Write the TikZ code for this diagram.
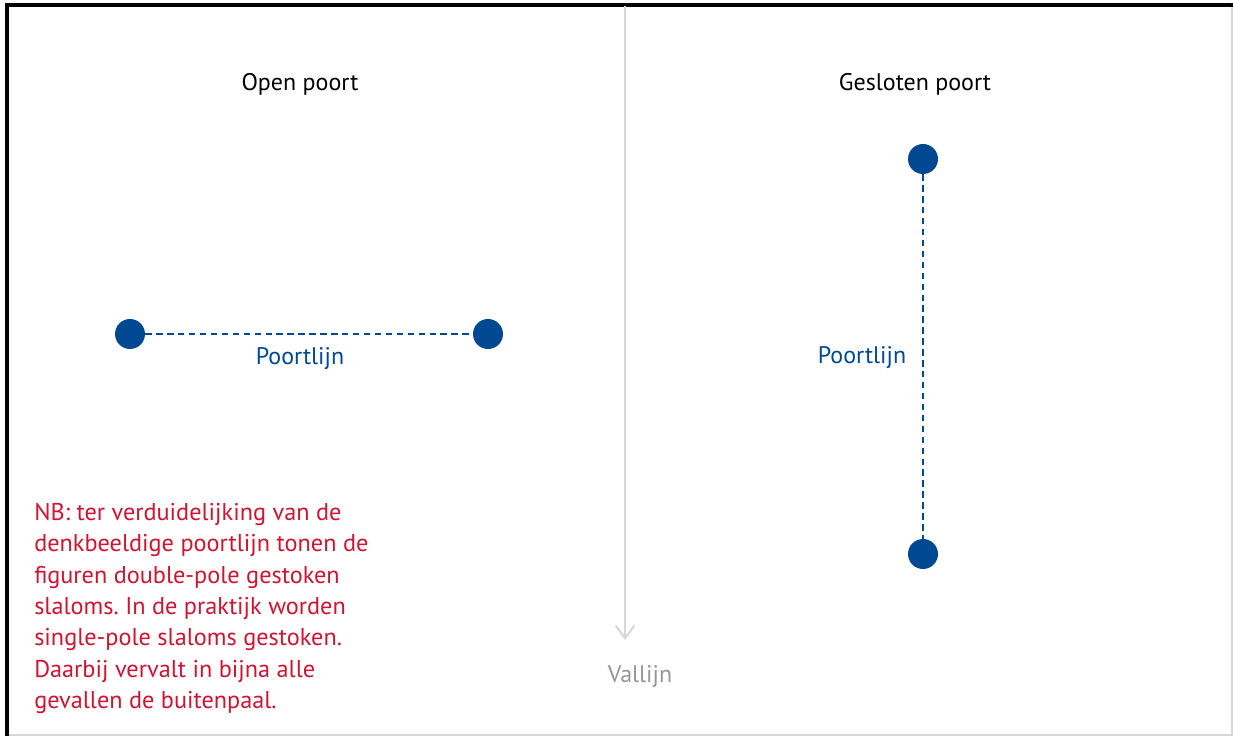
\documentclass[tikz,border=0pt]{standalone}
\usepackage{fontspec}
\setmainfont{PT Sans}
\usetikzlibrary{arrows.meta}
\frenchspacing

\definecolor{poortblauw}{RGB}{0,72,145}
\definecolor{nbrood}{RGB}{205,20,50}
\definecolor{valgrijs}{RGB}{215,215,215}
\definecolor{tekstgrijs}{RGB}{150,150,150}

\tikzset{
  paal/.style={circle,fill=poortblauw,inner sep=0pt,minimum size=22.5pt},
  poortlijn/.style={poortblauw,line width=1.1pt,dash pattern=on 4.8pt off 3.4pt},
  kop/.style={font=\fontsize{18}{21}\selectfont,text=black},
  label/.style={font=\fontsize{18}{21}\selectfont,text=poortblauw}
}

\begin{document}
\begin{tikzpicture}[x=0.75pt,y=0.75pt,yscale=-1,xscale=1]
\useasboundingbox (0,0) rectangle (1233,737);

%Frame
\draw [valgrijs,line width=1pt] (7,5) -- (1232,5) -- (1232,735) -- (7,735) ;
\draw [black,line width=2.4pt] (7,736) -- (7,5) -- (1233,5) ;

%Vallijn
\coordinate (vtop) at (625,6);
\coordinate (vend) at (625,640);
\draw [valgrijs,line width=1.5pt,-{Straight Barb[length=9.5pt,width=14pt]}] (vtop) -- (vend) ;
\node (vallijn) at (640,677) [font=\fontsize{18}{21}\selectfont,text=tekstgrijs] {Vallijn};

% Open poort
\node (openkop) at (300,84) [kop] {Open poort};
\node (oa) at (130,334) [paal] {};
\node (ob) at (488,334) [paal] {};
\draw [poortlijn] (oa) -- (ob) ;
\node (olabel) at (300,359) [label] {Poortlijn};

% Gesloten poort
\node (geslkop) at (915,84) [kop] {Gesloten poort};
\node (ga) at (923,159) [paal] {};
\node (gb) at (923,554) [paal] {};
\draw [poortlijn] (ga) -- (gb) ;
\node (glabel) at (862,358) [label] {Poortlijn};

% Text Node
\node (nb) at (34,503) [anchor=north west,align=left,inner sep=0pt,text=nbrood,font=\fontsize{18.2}{23.5}\selectfont] {NB: ter verduidelijking van de\\
denkbeeldige poortlijn tonen de\\
figuren double-pole gestoken\\
slaloms. In de praktijk worden\\
single-pole slaloms gestoken.\\
Daarbij vervalt in bijna alle\\
gevallen de buitenpaal.};

\end{tikzpicture}
\end{document}
